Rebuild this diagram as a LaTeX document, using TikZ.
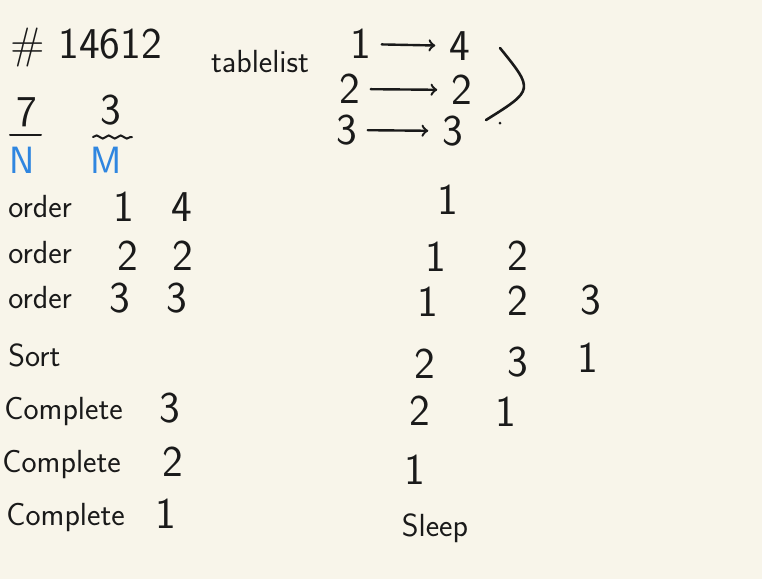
\documentclass[tikz,border=0pt]{standalone}
\usepackage{tikz}
\usetikzlibrary{calc,decorations.pathmorphing}
\definecolor{paper}{HTML}{F8F5EA}
\definecolor{pen}{HTML}{1A1A1A}
\definecolor{bluepen}{HTML}{2F86E0}
\tikzset{
  word/.style={text=pen,inner sep=1pt,font=\sffamily\fontsize{16}{19}\selectfont},
  num/.style={text=pen,inner sep=1pt,font=\sffamily\fontsize{22}{26}\selectfont},
  var/.style={text=bluepen,inner sep=1pt,font=\sffamily\fontsize{19}{22}\selectfont},
  stroke/.style={draw=pen,line width=1pt,line cap=round}
}
\begin{document}
\begin{tikzpicture}[x=0.5pt,y=-0.5pt]
\fill[paper] (0,0) rectangle (762,579);
\useasboundingbox (0,0) rectangle (762,579);
% header
\node[num] (title) at (86,48) {\# 14612};
\node[word] (tbl) at (260,62) {tablelist};
% N and M
\node[num] (n7) at (27,112) {7};
\node[num] (n3) at (111,110) {3};
\coordinate (u7a) at (10,135); \coordinate (u7b) at (41,135);
\coordinate (u3a) at (93,137); \coordinate (u3b) at (132,137);
\draw[stroke] (u7a)--(u7b);
\draw[stroke,decorate,decoration={snake,amplitude=0.8,segment length=6}] (u3a)--(u3b);
\node[var] (vN) at (22,160) {N};
\node[var] (vM) at (106,160) {M};
% table list
\node[num] (ta1) at (361,44) {1};
\node[num] (tb1) at (460,46) {4};
\node[num] (ta2) at (350,89) {2};
\node[num] (tb2) at (462,90) {2};
\node[num] (ta3) at (347,130) {3};
\node[num] (tb3) at (453,131) {3};
\foreach \i in {1,2,3}{\draw[stroke,line width=1.2pt,->,shorten <=4pt,shorten >=6pt] (ta\i) -- (tb\i);}
\coordinate (brA) at (500,48); \coordinate (brB) at (486,120);
\draw[stroke,line width=1.3pt] (brA) .. controls (534,90) .. (brB);
\fill[pen] (500,123) circle (1.5);
% commands
\node[word,anchor=west] (c1) at (6,207) {order};
\node[num] (c1a) at (124,207) {1};
\node[num] (c1b) at (182,207) {4};
\node[word,anchor=west] (c2) at (6,253) {order};
\node[num] (c2a) at (128,256) {2};
\node[num] (c2b) at (183,256) {2};
\node[word,anchor=west] (c3) at (6,298) {order};
\node[num] (c3a) at (120,298) {3};
\node[num] (c3b) at (177,298) {3};
\node[word,anchor=west] (c4) at (6,355) {Sort};
\node[word,anchor=west] (c5) at (2,411) {Complete};
\node[num] (c5a) at (170,408) {3};
\node[word,anchor=west] (c6) at (0,464) {Complete};
\node[num] (c6a) at (173,462) {2};
\node[word,anchor=west] (c7) at (4,517) {Complete};
\node[num] (c7a) at (166,514) {1};
% queue states
\node[num] (q1a) at (448,200) {1};
\node[num] (q2a) at (436,257) {1};
\node[num] (q2b) at (518,256) {2};
\node[num] (q3a) at (428,302) {1};
\node[num] (q3b) at (518,301) {2};
\node[num] (q3c) at (591,300) {3};
\node[num] (q4a) at (425,364) {2};
\node[num] (q4b) at (518,362) {3};
\node[num] (q4c) at (588,358) {1};
\node[num] (q5a) at (420,411) {2};
\node[num] (q5b) at (506,412) {1};
\node[num] (q6a) at (415,470) {1};
\node[word] (slp) at (435,528) {Sleep};
\end{tikzpicture}
\end{document}
